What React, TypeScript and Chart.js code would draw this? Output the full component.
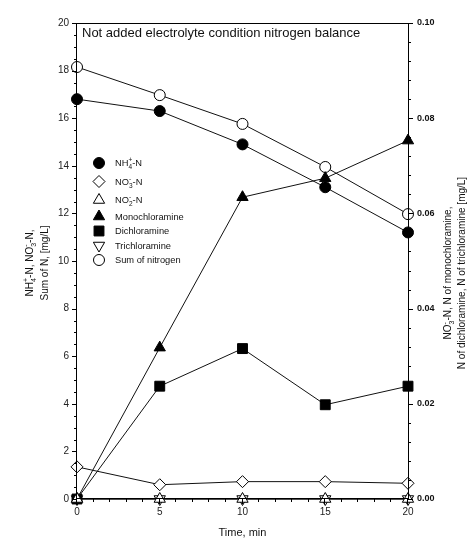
import React, { useEffect, useRef } from 'react';
import { Chart, registerables } from 'chart.js';

Chart.register(...registerables);

const FONT = "'Liberation Sans', Arial, Helvetica, sans-serif";

// ---- data ----
const times = [0, 5, 10, 15, 20];
const nh4N = [16.8, 16.3, 14.9, 13.1, 11.2];
const no3N = [1.35, 0.6, 0.73, 0.73, 0.66];
const no2N = [0, 0, 0, 0, 0];
const monochloramine = [0, 0.0318, 0.0634, 0.0674, 0.0753];
const dichloramine = [0, 0.0237, 0.0316, 0.0198, 0.0237];
const trichloramine = [0, 0, 0, 0, 0];
const sumN = [18.15, 16.97, 15.76, 13.95, 11.97];

const titleText = 'Not added electrolyte condition nitrogen balance';
const xTitle = 'Time, min';

type Seg = { t?: string; sub?: string; sup?: string };

const leftTitle: Seg[][] = [
  [{ t: 'NH' }, { sub: '4', sup: '+' }, { t: '-N, NO' }, { sub: '3', sup: '-' }, { t: '-N,' }],
  [{ t: 'Sum of N, [mg/L]' }],
];
const rightTitle: Seg[][] = [
  [{ t: 'NO' }, { sub: '3', sup: '-' }, { t: '-N, N of monochloramine,' }],
  [{ t: 'N of dichloramine, N of trichloramine [mg/L]' }],
];

type Series = {
  label: Seg[];
  data: number[];
  axis: 'y' | 'y2';
  style: 'circle' | 'rectRot' | 'triangle' | 'rect';
  rot: number;
  filled: boolean;
  r: number;
};

const series: Series[] = [
  { label: [{ t: 'NH' }, { sub: '4', sup: '+' }, { t: '-N' }], data: nh4N, axis: 'y', style: 'circle', rot: 0, filled: true, r: 5.5 },
  { label: [{ t: 'NO' }, { sub: '3', sup: '-' }, { t: '-N' }], data: no3N, axis: 'y', style: 'rectRot', rot: 0, filled: false, r: 6 },
  { label: [{ t: 'NO' }, { sub: '2', sup: '-' }, { t: '-N' }], data: no2N, axis: 'y2', style: 'triangle', rot: 0, filled: false, r: 6.5 },
  { label: [{ t: 'Monochloramine' }], data: monochloramine, axis: 'y2', style: 'triangle', rot: 0, filled: true, r: 6.5 },
  { label: [{ t: 'Dichloramine' }], data: dichloramine, axis: 'y2', style: 'rect', rot: 0, filled: true, r: 7 },
  { label: [{ t: 'Trichloramine' }], data: trichloramine, axis: 'y2', style: 'triangle', rot: 180, filled: false, r: 6.5 },
  { label: [{ t: 'Sum of nitrogen' }], data: sumN, axis: 'y', style: 'circle', rot: 0, filled: false, r: 5.5 },
];

const legendRows = [163, 181.5, 200, 216.5, 231, 245.5, 260];

function measureRich(ctx: CanvasRenderingContext2D, parts: Seg[], size: number) {
  let w = 0;
  for (const p of parts) {
    if (p.t !== undefined) {
      ctx.font = `${size}px ${FONT}`;
      w += ctx.measureText(p.t).width;
    } else {
      ctx.font = `${size * 0.7}px ${FONT}`;
      w += Math.max(ctx.measureText(p.sub || '').width, ctx.measureText(p.sup || '').width);
    }
  }
  return w;
}

function drawRich(ctx: CanvasRenderingContext2D, parts: Seg[], x: number, y: number, size: number) {
  ctx.textBaseline = 'alphabetic';
  ctx.textAlign = 'left';
  let cx = x;
  for (const p of parts) {
    if (p.t !== undefined) {
      ctx.font = `${size}px ${FONT}`;
      ctx.fillText(p.t, cx, y);
      cx += ctx.measureText(p.t).width;
    } else {
      ctx.font = `${size * 0.7}px ${FONT}`;
      let w = 0;
      if (p.sub) {
        ctx.fillText(p.sub, cx, y + size * 0.3);
        w = Math.max(w, ctx.measureText(p.sub).width);
      }
      if (p.sup) {
        ctx.fillText(p.sup, cx, y - size * 0.45);
        w = Math.max(w, ctx.measureText(p.sup).width);
      }
      cx += w;
    }
  }
}

function drawMarker(ctx: CanvasRenderingContext2D, s: Series, x: number, y: number) {
  const r = s.r;
  ctx.beginPath();
  if (s.style === 'circle') {
    ctx.arc(x, y, r, 0, Math.PI * 2);
  } else if (s.style === 'rectRot') {
    ctx.moveTo(x - r, y);
    ctx.lineTo(x, y - r);
    ctx.lineTo(x + r, y);
    ctx.lineTo(x, y + r);
    ctx.closePath();
  } else if (s.style === 'rect') {
    const h = Math.SQRT1_2 * r;
    ctx.rect(x - h, y - h, 2 * h, 2 * h);
  } else {
    let rad = (s.rot * Math.PI) / 180;
    ctx.moveTo(x + Math.sin(rad) * r, y - Math.cos(rad) * r);
    rad += (2 * Math.PI) / 3;
    ctx.lineTo(x + Math.sin(rad) * r, y - Math.cos(rad) * r);
    rad += (2 * Math.PI) / 3;
    ctx.lineTo(x + Math.sin(rad) * r, y - Math.cos(rad) * r);
    ctx.closePath();
  }
  ctx.fillStyle = s.filled ? '#000' : '#fff';
  ctx.fill();
  ctx.lineWidth = 1;
  ctx.strokeStyle = '#000';
  ctx.stroke();
}

const decorPlugin = {
  id: 'decor',
  afterDraw(chart: any) {
    const ctx: CanvasRenderingContext2D = chart.ctx;
    const a = chart.chartArea;
    const sx = chart.scales.x;
    const sy = chart.scales.y;
    const sy2 = chart.scales.y2;
    ctx.save();
    // frame
    ctx.strokeStyle = '#000';
    ctx.lineWidth = 1;
    ctx.strokeRect(Math.round(a.left) - 0.5, Math.round(a.top) + 0.5, Math.round(a.right - a.left) + 1, Math.round(a.bottom - a.top) - 1);
    // ticks
    ctx.beginPath();
    for (let i = 0; i <= 40; i++) {
      const v = i * 0.5;
      const py = Math.round(sy.getPixelForValue(v)) + 0.5;
      const len = i % 4 === 0 ? 5 : 3;
      ctx.moveTo(a.left - len, py);
      ctx.lineTo(a.left, py);
    }
    for (let i = 0; i <= 25; i++) {
      const v = i * 0.004;
      const py = Math.round(sy2.getPixelForValue(v)) + 0.5;
      const len = i % 5 === 0 ? 5 : 3;
      ctx.moveTo(a.right, py);
      ctx.lineTo(a.right + len, py);
    }
    for (let i = 0; i <= 20; i++) {
      const px = Math.round(sx.getPixelForValue(i)) - 0.5;
      const len = i % 5 === 0 ? 5 : 3;
      ctx.moveTo(px, a.bottom);
      ctx.lineTo(px, a.bottom + len);
    }
    ctx.stroke();

    // title inside plot
    ctx.fillStyle = '#111';
    ctx.font = `13px ${FONT}`;
    ctx.textAlign = 'left';
    ctx.textBaseline = 'alphabetic';
    ctx.fillText(titleText, a.left + 5, a.top + 14);

    // legend
    series.forEach((s, i) => {
      const y = legendRows[i];
      drawMarker(ctx, s, a.left + 22, y);
      ctx.fillStyle = '#111';
      drawRich(ctx, s.label, a.left + 38, y + 3.3, 9.3);
    });

    // x title
    ctx.fillStyle = '#111';
    ctx.font = `11px ${FONT}`;
    ctx.textAlign = 'center';
    ctx.textBaseline = 'middle';
    ctx.fillText(xTitle, (a.left + a.right) / 2, 533);

    // axis titles (rotated)
    const drawTitle = (lines: Seg[][], xs: number[], cy: number) => {
      lines.forEach((line, i) => {
        const w = measureRich(ctx, line, 10);
        ctx.save();
        ctx.translate(xs[i], cy);
        ctx.rotate(-Math.PI / 2);
        ctx.fillStyle = '#111';
        drawRich(ctx, line, -w / 2, 3.5, 10);
        ctx.restore();
      });
    };
    drawTitle(leftTitle, [29, 44], 263);
    drawTitle(rightTitle, [447.5, 461], 273);
    ctx.restore();
  },
};

export default function App() {
  const ref = useRef<HTMLCanvasElement>(null);
  useEffect(() => {
    const datasets = series.map((s) => ({
      data: times.map((t, i) => ({ x: t, y: s.data[i] })),
      yAxisID: s.axis,
      borderColor: '#111',
      borderWidth: 1,
      pointStyle: s.style,
      pointRotation: s.rot,
      pointRadius: s.r,
      pointHoverRadius: s.r,
      pointBorderColor: '#000',
      pointBorderWidth: 1,
      pointBackgroundColor: s.filled ? '#000' : '#fff',
      backgroundColor: s.filled ? '#000' : '#fff',
      fill: false,
      tension: 0,
      clip: false as any,
    }));
    const tickFont = { family: FONT, size: 10 };
    const chart = new Chart(ref.current!, {
      type: 'line',
      data: { datasets },
      plugins: [decorPlugin],
      options: {
        animation: false,
        responsive: false,
        maintainAspectRatio: false,
        events: [],
        layout: { padding: { top: 23, left: 0, right: 0, bottom: 0 } },
        plugins: { legend: { display: false }, tooltip: { enabled: false }, title: { display: false } },
        scales: {
          x: {
            type: 'linear',
            min: 0,
            max: 20,
            position: 'bottom',
            grid: { display: false, drawTicks: false },
            border: { display: false },
            ticks: { stepSize: 5, font: tickFont, color: '#222', padding: 7, maxRotation: 0, autoSkip: false },
            afterFit: (s: any) => { s.height = 45; },
          },
          y: {
            type: 'linear',
            min: 0,
            max: 20,
            position: 'left',
            grid: { display: false, drawTicks: false },
            border: { display: false },
            ticks: { stepSize: 2, font: tickFont, color: '#222', padding: 8 },
            afterFit: (s: any) => { s.width = 77; },
          },
          y2: {
            type: 'linear',
            min: 0,
            max: 0.1,
            position: 'right',
            grid: { display: false, drawTicks: false },
            border: { display: false },
            ticks: {
              stepSize: 0.02,
              font: { family: FONT, size: 9, weight: 'bold' },
              color: '#111',
              padding: 9,
              callback: (v: any) => Number(v).toFixed(2),
            },
            afterFit: (s: any) => { s.width = 66; },
          },
        },
      } as any,
    });
    return () => chart.destroy();
  }, []);
  return (
    <div style={{ position: 'fixed', left: 0, top: 0, width: 474, height: 544, background: '#fff' }}>
      <canvas ref={ref} width={474} height={544} style={{ display: 'block' }} />
    </div>
  );
}
